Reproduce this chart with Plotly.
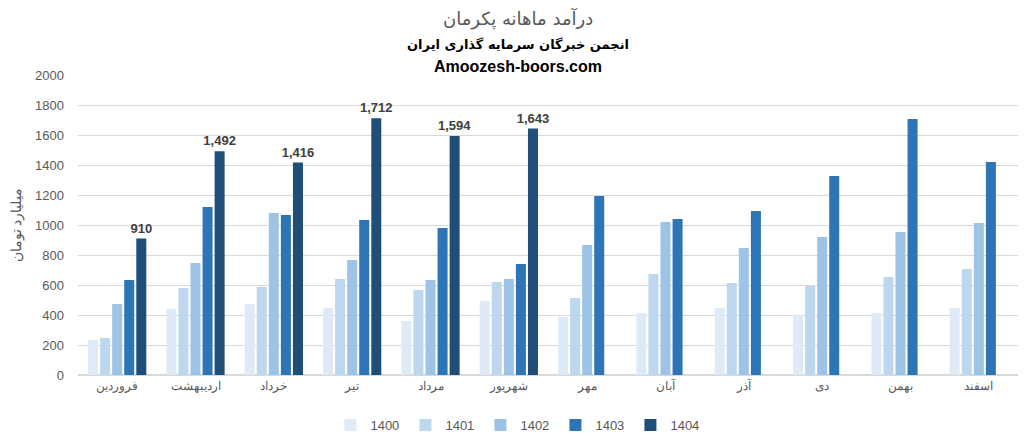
import plotly.graph_objects as go

months = ["فروردین", "اردیبهشت", "خرداد", "تیر", "مرداد", "شهریور",
          "مهر", "آبان", "آذر", "دی", "بهمن", "اسفند"]
years = ["1400", "1401", "1402", "1403", "1404"]
v1400 = [233, 440, 473, 447, 360, 493, 387, 413, 447, 400, 413, 447]
v1401 = [247, 580, 587, 640, 567, 620, 513, 673, 613, 593, 653, 707]
v1402 = [473, 747, 1080, 767, 633, 640, 867, 1020, 847, 920, 953, 1013]
v1403 = [633, 1120, 1067, 1033, 980, 740, 1193, 1040, 1093, 1327, 1707, 1420]
v1404 = [910, 1492, 1416, 1712, 1594, 1643, None, None, None, None, None, None]
colors = ["#DEEBF7", "#BDD7EE", "#9DC3E6", "#2E75B6", "#1F4E79"]

series = [v1400, v1401, v1402, v1403, v1404]
fig = go.Figure()
for name, vals, col in zip(years, series, colors):
    kw = {}
    if name == "1404":
        kw = dict(text=[f"{v:,}" if v is not None else "" for v in vals],
                  textposition="outside",
                  textfont=dict(family="Liberation Sans", size=13, color="#404040"),
                  texttemplate="<b>%{text}</b>", cliponaxis=False)
    fig.add_trace(go.Bar(name=name, x=months, y=vals, marker_color=col,
                         marker_line_width=0, **kw))

cx = 0.468  # horizontal centre of the whole chart, in plot-area fraction
fig.update_layout(
    width=1036, height=445,
    barmode="group", bargap=0.23, bargroupgap=0.17,
    plot_bgcolor="white", paper_bgcolor="white",
    margin=dict(l=70, r=26, t=67, b=78, autoexpand=False),
    font=dict(family="Liberation Sans", color="#595959", size=13),
    showlegend=True,
    legend=dict(orientation="h", x=cx, xanchor="center", y=-0.167, yanchor="middle",
                font=dict(size=13, color="#595959"), traceorder="normal",
                entrywidth=30, entrywidthmode="pixels", itemwidth=30),
    uniformtext=dict(minsize=13, mode="show"),
)
fig.update_yaxes(range=[0, 2000], dtick=200, showgrid=True, gridcolor="#D9D9D9",
                 gridwidth=1, zeroline=True, zerolinecolor="#D9D9D9", automargin=False,
                 tickfont=dict(size=13, color="#595959"), ticks="", ticklabelstandoff=13,
                 title=dict(text="میلیارد تومان", font=dict(size=14, color="#595959"),
                            standoff=13))
fig.update_xaxes(showgrid=False, tickfont=dict(size=12, color="#595959"), automargin=False,
                 showline=True, linecolor="#D9D9D9")

fig.update_layout(annotations=[
    dict(text="درآمد ماهانه پکرمان", x=cx, xref="paper", y=1.19, yref="paper",
         yanchor="middle", showarrow=False,
         font=dict(size=18, color="#595959", family="DejaVu Sans")),
    dict(text="<b>انجمن خبرگان سرمایه گذاری ایران</b>", x=cx, xref="paper", y=1.103,
         yref="paper", yanchor="middle", showarrow=False,
         font=dict(size=13, color="#000000", family="DejaVu Sans")),
    dict(text="<b>Amoozesh-boors.com</b>", x=cx, xref="paper", y=1.027,
         yref="paper", yanchor="middle", showarrow=False,
         font=dict(size=16, color="#000000", family="Liberation Sans")),
])

fig.write_html("out.html")
